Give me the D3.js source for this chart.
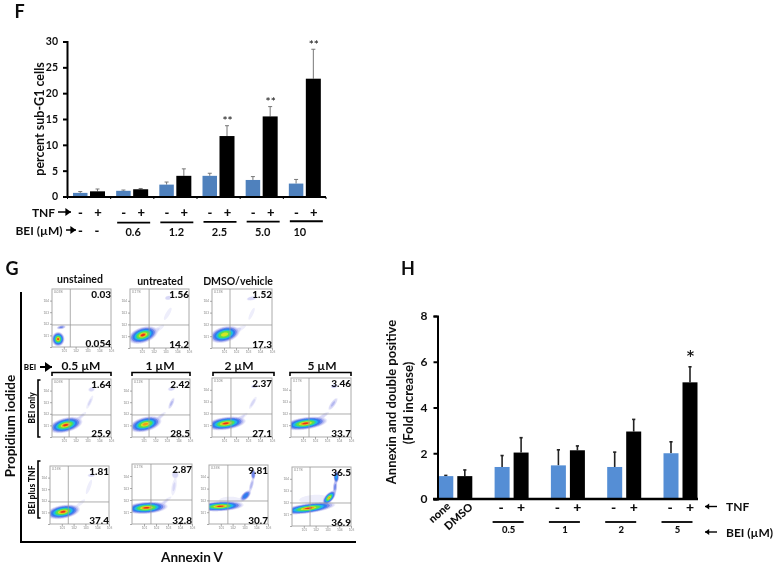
<!DOCTYPE html>
<html><head><meta charset="utf-8">
<script src="https://d3js.org/d3.v7.min.js"></script>
<style>html,body{margin:0;padding:0;background:#fff}svg{display:block}text{font-family:Lato,"Open Sans",sans-serif;fill:#111}</style>
</head><body><svg id="c" width="773" height="564"></svg>
<script>
// ---------- Panel F ----------
const fGroups=["0","0.6","1.2","2.5","5.0","10"];
const fBlue=[0.7,1.1,2.3,4.0,3.2,2.5];
const fBlack=[1.0,1.4,4.0,11.7,15.5,22.8];
const fBlueTop=[0.95,1.25,2.8,4.5,3.85,3.3];
const fBlackTop=[1.45,1.55,5.35,13.7,17.4,28.5];
const fStars=["","","","**","**","**"];
const fTicks=[0,5,10,15,20,25,30];
const fBeiLabels=["","0.6","1.2","2.5","5.0","10"];
// ---------- Panel H ----------
const hGroups=["ctl","0.5","1","2","5"];
const hBlue=[1.0,1.4,1.47,1.4,2.0];
const hBlack=[1.0,2.03,2.13,2.95,5.1];
const hBlueTop=[1.03,1.9,2.15,2.05,2.5];
const hBlackTop=[1.27,2.68,2.32,3.48,5.78];
const hStars=["","","","","*"];
const hTicks=[0,2,4,6,8];
const hBeiLabels=["","0.5","1","2","5"];
// ---------- Panel G: quadrant percentages ----------
const gUpper=["0.03","1.56","1.52","1.64","2.42","2.37","3.46","1.81","2.87","9.81","36.5"];
const gLower=["0.054","14.2","17.3","25.9","28.5","27.1","33.7","37.4","32.8","30.7","36.9"];
const gCorner=["0.03%","0.17%","0.13%","0.05%","0.12%","0.10%","0.17%","0.15%","0.17%","0.35%","0.17%"];
const gDecades=[0,1,2,3,4,5];
// density clusters per plot, in decades: [x, y, sdX, sdY, rotation°, amplitude]
const gClusters=[
 [[.52,.68,.26,.3,0,1],[.78,1.7,.22,.09,10,.1]],
 [[1.1,1.1,.62,.32,18,1],[2.4,1.6,.5,.14,35,.012],[3.2,2.9,.14,.5,-30,.012],[3.25,4.25,.2,.12,10,.03]],
 [[1.05,1.15,.62,.32,15,.95],[2.3,1.6,.5,.14,30,.012],[3.3,2.9,.13,.5,-25,.01],[3.3,4.2,.28,.11,10,.03]],
 [[1.15,1.03,.7,.3,14,1],[2.5,1.8,.4,.12,40,.014],[3.2,3,.12,.5,-25,.014],[3.35,4.1,.2,.14,10,.022]],
 [[1.15,1.1,.68,.3,14,.98],[2.5,1.8,.4,.12,40,.016],[3.4,2.9,.11,.35,-25,.035],[3.4,4.15,.22,.12,10,.025]],
 [[1.15,1.15,.8,.26,8,1],[2.5,1.7,.45,.12,35,.014],[3.4,2.9,.12,.45,-30,.016],[3.55,4.3,.22,.1,10,.028]],
 [[1.2,1.15,.88,.25,8,1],[2.7,1.8,.4,.12,32,.018],[3.5,2.8,.13,.4,-35,.035],[3.6,4.3,.18,.1,10,.05]],
 [[1.1,1.05,.7,.28,10,1],[2.6,1.8,.4,.12,40,.012],[3.3,3.2,.13,.55,-20,.012],[3.5,4.2,.22,.1,5,.025]],
 [[1.2,1.35,.85,.24,4,1],[2.8,1.9,.45,.12,38,.014],[3.5,3.1,.16,.55,-10,.014],[3.6,4.1,.2,.2,0,.025]],
 [[.95,1.5,.95,.2,3,1],[1.8,2,.9,.3,0,.009],[3.1,2.4,.3,.15,45,.3],[3.6,3.3,.1,.4,-15,.04],[3.75,4.2,.1,.24,0,.2]],
 [[1.4,1.5,1.1,.2,8,1],[1.8,2.3,1,.28,5,.012],[3.15,2.4,.36,.17,48,.97],[3.65,3.3,.1,.35,-5,.1],[3.75,4.15,.11,.26,0,.45]]
];
// ---------- helpers ----------
const svg=d3.select("#c");
const defs=svg.append("defs");
defs.append("filter").attr("id","soft").append("feGaussianBlur").attr("stdDeviation",.6);
defs.append("filter").attr("id","softer").append("feGaussianBlur").attr("stdDeviation",.25);
const root=svg.append("g").attr("filter","url(#softer)");
function label(t,x,y,o={}){
 const e=root.append("text").text(t).attr("x",x).attr("y",y).attr("text-anchor",o.a||"middle")
  .attr("dominant-baseline","central").attr("font-size",o.s||11).attr("font-weight",o.w||700);
 if(o.r!==undefined)e.attr("transform",`rotate(${o.r} ${x} ${y})`);
 return e;
}
function rule(x1,y1,x2,y2,w=2,c="#000"){root.append("line").attr("x1",x1).attr("y1",y1).attr("x2",x2).attr("y2",y2).attr("stroke",c).attr("stroke-width",w);}
function arrow(x1,x2,y,w=1.5,h=4){
 rule(x1,y,x2,y,w);
 const d=x2>x1?1:-1;
 root.append("path").attr("d",`M${x2},${y}L${x2-d*h*1.4},${y-h}L${x2-d*h*1.4},${y+h}Z`).attr("fill","#000");
}
function bars(g,x,off,w,y,vals,tops,groups,color,errColor,errW,capW){
 vals.forEach((v,i)=>{
  const cx=x(groups[i])+off;
  g.append("line").attr("x1",cx+w/2).attr("x2",cx+w/2).attr("y1",y(v)).attr("y2",y(tops[i])).attr("stroke",errColor).attr("stroke-width",errW);
  g.append("line").attr("x1",cx+w/2-capW).attr("x2",cx+w/2+capW).attr("y1",y(tops[i])).attr("y2",y(tops[i])).attr("stroke",errColor).attr("stroke-width",errW);
  g.append("rect").attr("x",cx).attr("width",w).attr("y",y(v)).attr("height",y(0)-y(v)).attr("fill",color);
 });
}
const BLUE="#4f81bd", BLUE2="#558ed5";
// ---------- draw F ----------
{
 const y=d3.scaleLinear().domain([0,30]).range([196.5,41.5]);
 const x=d3.scaleBand().domain(fGroups).range([73,332]);
 const g=root.append("g");
 bars(g,x,0,14.5,y,fBlue,fBlueTop,fGroups,BLUE,"#777",1,2);
 bars(g,x,17,15,y,fBlack,fBlackTop,fGroups,"#000","#777",1,2);
 const ax=root.append("g").attr("transform","translate(67,0)").call(d3.axisLeft(y).tickValues(fTicks).tickSize(4).tickPadding(5));
 ax.select(".domain").attr("stroke-width",2); ax.selectAll("line").attr("stroke-width",2);
 ax.selectAll("text").attr("font-size",10.5).attr("font-weight",700).attr("font-family","Lato");
 rule(66,197,326,197,2);
 fGroups.forEach((k,i)=>{ rule(x(k)-5.5,197,x(k)-5.5,199,1);});
 rule(326,197,326,199,1);
 label("F",19.5,11,{s:18});
 label("percent sub-G1 cells",39,119,{s:12.5,r:-90});
 label("TNF",43.5,212,{s:12,w:700}); arrow(58,71,212);
 label("BEI (µM)",39,230,{s:12,w:700}); arrow(66,76,230);
 fGroups.forEach((k,i)=>{
  label("-",x(k)+7.5,212,{s:13,w:900}); label("+",x(k)+25,212,{s:13,w:900});
  if(i===0){label("-",x(k)+7.5,230,{s:13,w:900}); label("-",x(k)+24,230,{s:13,w:900});}
  else{
   rule(x(k)+1,223-i*.35,x(k)+34,223-i*.35,1.8);
   label(fBeiLabels[i],x(k)+17-(i===5?6:0),231,{s:11});
  }
  if(fStars[i])label(fStars[i],x(k)+25,y(fBlackTop[i])-5,{s:12,w:500});
 });
}
// ---------- draw H ----------
{
 const y=d3.scaleLinear().domain([0,8]).range([499,316]);
 const x=d3.scaleBand().domain(hGroups).range([438.3,719.8]);
 const g=root.append("g");
 bars(g,x,0,15,y,hBlue,hBlueTop,hGroups,BLUE2,"#222",1.6,1.6);
 bars(g,x,19,15,y,hBlack,hBlackTop,hGroups,"#000","#222",1.6,1.6);
 const ax=root.append("g").attr("transform","translate(437.5,0)").call(d3.axisLeft(y).tickValues(hTicks).tickSize(4).tickPadding(6));
 ax.select(".domain").attr("stroke-width",2); ax.selectAll("line").attr("stroke-width",2);
 ax.selectAll("text").attr("font-size",12).attr("font-weight",700).attr("font-family","Lato");
 rule(433,499,698,499,2.4);
 label("H",408,268,{s:18});
 label("Annexin and double positive",391,402,{s:13,r:-90});
 label("(Fold increase)",408,403,{s:13,r:-90});
 label("none",439,512,{s:11,r:-42,w:900});
 label("DMSO",458,516,{s:11,r:-42,w:900});
 hGroups.slice(1).forEach((k,i)=>{
  label("-",x(k)+6.5,506,{s:14,w:900}); label("+",x(k)+26.5,506,{s:14,w:900});
  rule(x(k)-2,522,x(k)+29,522,1.8);
  label(hBeiLabels[i+1],x(k)+14,529.5,{s:9.5,w:900});
 });
 hStars.forEach((s,i)=>{if(s)label(s,x(hGroups[i])+27,y(hBlackTop[i])-9,{s:22,w:500});});
 arrow(717,705,506.5,1.4,3); label("TNF",726,506.5,{a:"start",s:12});
 arrow(717,705,532,1.4,3); label("BEI (µM)",726,532,{a:"start",s:12});
}
// ---------- draw G ----------
const plotLayout=[
 {x:52,w:59,y:289,h:58,vx:1.55,hy:1.9},{x:130,w:59,y:289,h:59,vx:1.62,hy:1.95},{x:212,w:60,y:289,h:59,vx:1.5,hy:1.95},
 {x:52,w:59,y:379,h:58,vx:1.45,hy:1.9},{x:132,w:58,y:379,h:58,vx:1.47,hy:1.9},{x:212,w:60,y:378,h:59,vx:1.58,hy:1.95},{x:291,w:60,y:378,h:59,vx:1.5,hy:1.95},
 {x:50,w:59,y:466,h:58,vx:1.55,hy:1.9},{x:132,w:60,y:464,h:60,vx:1.58,hy:2},{x:209,w:59,y:465,h:59,vx:1.6,hy:1.95},{x:292,w:59,y:467,h:59,vx:1.53,hy:1.95}
];
const levels=[.005,.012,.03,.08,.2,.42,.6,.72,.9,.96,.99];
const levelColors=["#eeeefb","#d8d8f6","#b4b8f0","#6f86ea","#2f7cee","#1fb8ea","#28d2a0","#5ede48","#d4e626","#f39a1e","#e8321e"];
plotLayout.forEach((p,i)=>{
 const g=root.append("g");
 const x=d3.scaleLinear().domain([0,5]).range([p.x,p.x+p.w]);
 const y=d3.scaleLinear().domain([0,5]).range([p.y+p.h,p.y]);
 const n=p.w*2, m=p.h*2, vals=new Array(n*m);
 for(let r=0;r<m;r++)for(let c=0;c<n;c++){
  const dx=x.invert(p.x+(c+.5)/2), dy=y.invert(p.y+(r+.5)/2);
  vals[r*n+c]=d3.sum(gClusters[i],([cx,cy,sx,sy,rot,a])=>{
   const t=rot*Math.PI/180,u=(dx-cx)*Math.cos(t)+(dy-cy)*Math.sin(t),v=-(dx-cx)*Math.sin(t)+(dy-cy)*Math.cos(t);
   return a*Math.exp(-.5*Math.pow(u*u/(sx*sx)+v*v/(sy*sy),1.6));
  });
 }
 const path=d3.geoPath(d3.geoIdentity().scale(.5).translate([p.x,p.y]));
 const cid="clip"+i;
 defs.append("clipPath").attr("id",cid).append("rect").attr("x",p.x).attr("y",p.y).attr("width",p.w).attr("height",p.h);
 const dens=g.append("g").attr("clip-path",`url(#${cid})`).append("g").attr("filter","url(#soft)");
 d3.contours().size([n,m]).thresholds(levels)(vals).forEach((ct,k)=>{
  dens.append("path").attr("d",path(ct)).attr("fill",levelColors[k]);
 });
 g.append("rect").attr("x",p.x).attr("y",p.y).attr("width",p.w).attr("height",p.h).attr("fill","none").attr("stroke","#aaa").attr("stroke-width",1);
 g.append("line").attr("x1",x(p.vx)).attr("x2",x(p.vx)).attr("y1",p.y).attr("y2",p.y+p.h).attr("stroke","#999").attr("stroke-width",.8);
 g.append("line").attr("x1",p.x).attr("x2",p.x+p.w).attr("y1",y(p.hy)).attr("y2",y(p.hy)).attr("stroke","#999").attr("stroke-width",.8);
 const fmt=d=>d===0?"":"10"+d;
 const ay=g.append("g").attr("transform",`translate(${p.x},0)`).call(d3.axisLeft(y).tickValues(gDecades.slice(0,5)).tickSize(2).tickPadding(1).tickFormat(fmt));
 const ax=g.append("g").attr("transform",`translate(0,${p.y+p.h})`).call(d3.axisBottom(x).tickValues(gDecades.slice(1)).tickSize(2).tickPadding(1).tickFormat(fmt));
 [ax,ay].forEach(a=>{a.select(".domain").remove();a.selectAll("line").attr("stroke","#888").attr("stroke-width",.7);a.selectAll("text").attr("font-size",3.2).style("fill","#888");});
 g.append("text").text(gCorner[i]).attr("x",p.x+2).attr("y",p.y+4).attr("font-size",3.2).style("fill","#888");
 label(gUpper[i],p.x+p.w,p.y+5,{a:"end",s:10,w:900});
 label(gLower[i],p.x+p.w,p.y+p.h-4.5,{a:"end",s:10,w:900});
});
label("G",12,268,{s:18});
rule(21,292,21,543,2); rule(20,542,356,542,2);
label("Propidium iodide",10,426,{s:13.5,r:-90});
label("Annexin V",192,557,{s:13.5});
[["unstained",80,279],["untreated",160,281],["DMSO/vehicle",238,281],["0.5 µM",81,365],["1 µM",160,365],["2 µM",239,365],["5 µM",322,365]].forEach(([t,x,y],i)=>label(t,x,y,{s:i<3?10.5:12,w:700}));
label("BEI",30,367,{s:8,w:900}); arrow(40,52,367,2,5);
[[52,111],[132,190],[213,274],[290,351]].forEach(([a,b])=>{
 root.append("path").attr("d",`M${a},376V372.5H${b}V376`).attr("fill","none").attr("stroke","#000").attr("stroke-width",1.6);
});
label("BEI only",32,408,{s:8.5,r:-90,w:900});
label("BEI plus TNF",32,490,{s:8.5,r:-90,w:900});
[[380,437],[461,518]].forEach(([a,b])=>{
 root.append("path").attr("d",`M40.5,${a}H38V${b}H40.5`).attr("fill","none").attr("stroke","#000").attr("stroke-width",1.6);
});
</script></body></html>
